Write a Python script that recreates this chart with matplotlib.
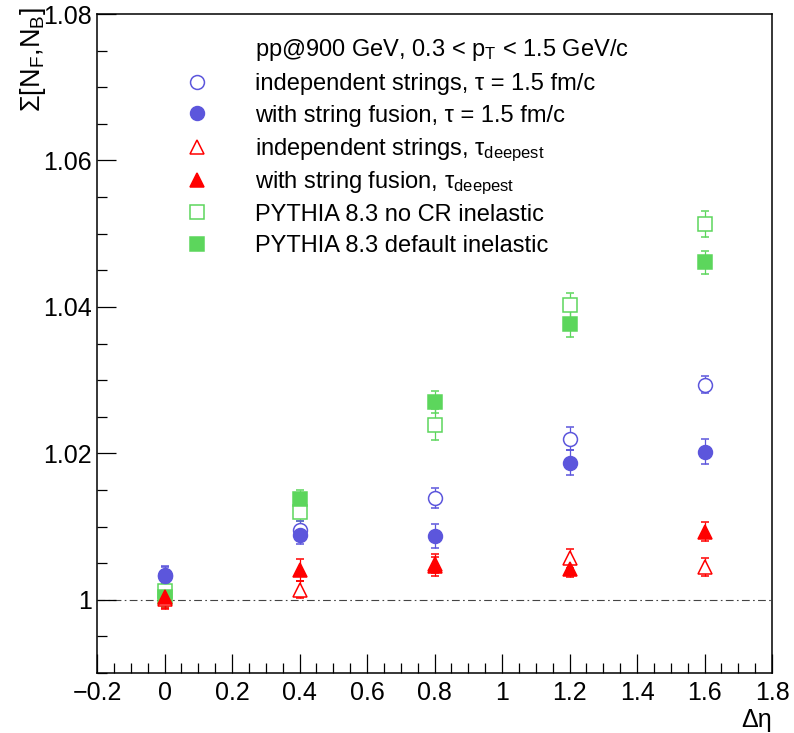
import matplotlib
matplotlib.use("Agg")
import matplotlib.pyplot as plt
from matplotlib.ticker import MultipleLocator, FuncFormatter

plt.rcParams['font.family'] = ['Liberation Sans', 'DejaVu Sans']
plt.rcParams['mathtext.fontset'] = 'custom'
plt.rcParams['mathtext.rm'] = 'Liberation Sans'
plt.rcParams['mathtext.it'] = 'Liberation Sans'

# data
deta = [0.0, 0.4, 0.8, 1.2, 1.6]

indep_tau = [1.0033, 1.0095, 1.0139, 1.0220, 1.0294]
indep_tau_err = [0.0012, 0.0012, 0.0014, 0.0016, 0.0012]

fusion_tau = [1.0034, 1.0089, 1.0087, 1.0187, 1.0202]
fusion_tau_err = [0.0012, 0.0013, 0.0016, 0.0017, 0.0017]

indep_deep = [1.0001, 1.0014, 1.0049, 1.0057, 1.0045]
indep_deep_err = [0.0013, 0.0012, 0.0013, 0.0013, 0.0012]

fusion_deep = [1.0004, 1.0041, 1.0046, 1.0042, 1.0093]
fusion_deep_err = [0.0015, 0.0015, 0.0013, 0.0011, 0.0013]

pythia_nocr = [1.0012, 1.0120, 1.0239, 1.0402, 1.0513]
pythia_nocr_err = [0.0013, 0.0013, 0.0021, 0.0017, 0.0018]

pythia_def = [1.0004, 1.0137, 1.0270, 1.0377, 1.0461]
pythia_def_err = [0.0014, 0.0013, 0.0015, 0.0018, 0.0016]

header = r"pp@900 GeV, 0.3 < p$_{\mathrm{T}}$ < 1.5 GeV/c"
labels = [
    "independent strings, τ = 1.5 fm/c",
    "with string fusion, τ = 1.5 fm/c",
    r"independent strings, τ$_{\mathrm{deepest}}$",
    r"with string fusion, τ$_{\mathrm{deepest}}$",
    "PYTHIA 8.3 no CR inelastic",
    "PYTHIA 8.3 default inelastic",
]

blue = '#5c56dc'
red = '#ff0000'
green = '#5cd65c'

# (values, errors, marker, colour, filled, legend index)
series = [
    (pythia_nocr, pythia_nocr_err, 's', green, False, 4),
    (pythia_def, pythia_def_err, 's', green, True, 5),
    (indep_tau, indep_tau_err, 'o', blue, False, 0),
    (fusion_tau, fusion_tau_err, 'o', blue, True, 1),
    (indep_deep, indep_deep_err, '^', red, False, 2),
    (fusion_deep, fusion_deep_err, '^', red, True, 3),
]

fig = plt.figure(figsize=(7.94, 7.33), dpi=100)
ax = fig.add_axes([0.1222, 0.0818, 0.8501, 0.8991])

ax.axhline(1.0, color='#444444', lw=0.8, linestyle=(0, (7, 3, 1.5, 3)), zorder=1)

handles = {}
for vals, errs, mk, col, filled, idx in series:
    fc = col if filled else 'white'
    ax.errorbar(deta, vals, yerr=errs, fmt=mk, ms=10, mfc=fc, mec=col, mew=1.1,
                ecolor=col, elinewidth=0.9, capsize=3, capthick=0.9, zorder=3)
    handles[idx] = (mk, col, fc)

ax.set_xlim(-0.2, 1.8)
ax.set_ylim(0.99, 1.08)
ax.xaxis.set_major_locator(MultipleLocator(0.2))
ax.xaxis.set_minor_locator(MultipleLocator(0.05))
ax.yaxis.set_major_locator(MultipleLocator(0.02))
ax.yaxis.set_minor_locator(MultipleLocator(0.005))
ax.xaxis.set_major_formatter(FuncFormatter(lambda v, p: ('%g' % round(v, 6)).replace('-', '\u2212')))
ax.yaxis.set_major_formatter(FuncFormatter(lambda v, p: ('%g' % round(v, 6))))
ax.tick_params(which='both', direction='in', top=False, right=False, width=0.9,
               labelsize=18)
ax.tick_params(which='major', length=14)
ax.tick_params(which='minor', length=7)
ax.tick_params(axis='y', pad=3.5)
ax.tick_params(axis='x', pad=6)
for s in ax.spines.values():
    s.set_linewidth(1.1)

ax.set_ylabel(r"Σ[N$_{\mathrm{F}}$,N$_{\mathrm{B}}$]", fontsize=19.5, loc='top')
ax.yaxis.set_label_coords(-0.072, 1.011)
ax.set_xlabel("Δη", fontsize=18, loc='right')
ax.xaxis.set_label_coords(1.0, -0.053)

# legend, drawn by hand in axes fraction
def fx(px):
    return (px - 97) / 675.0

def fy(py):
    return (673 - py) / 659.0

ax.text(fx(255), fy(56), header, transform=ax.transAxes, fontsize=17, va='baseline')
row_y = [81.5, 113, 147, 180, 212, 243.5]
for i, lab in enumerate(labels):
    mk, col, fc = handles[i]
    ax.plot([fx(197)], [fy(row_y[i])], marker=mk, ms=10, mfc=fc, mec=col, mew=1.1,
            transform=ax.transAxes, clip_on=False, linestyle='none')
    ax.text(fx(255), fy(row_y[i] + 8.5), lab, transform=ax.transAxes, fontsize=17,
            va='baseline')

fig.savefig('out.png', dpi=100)
